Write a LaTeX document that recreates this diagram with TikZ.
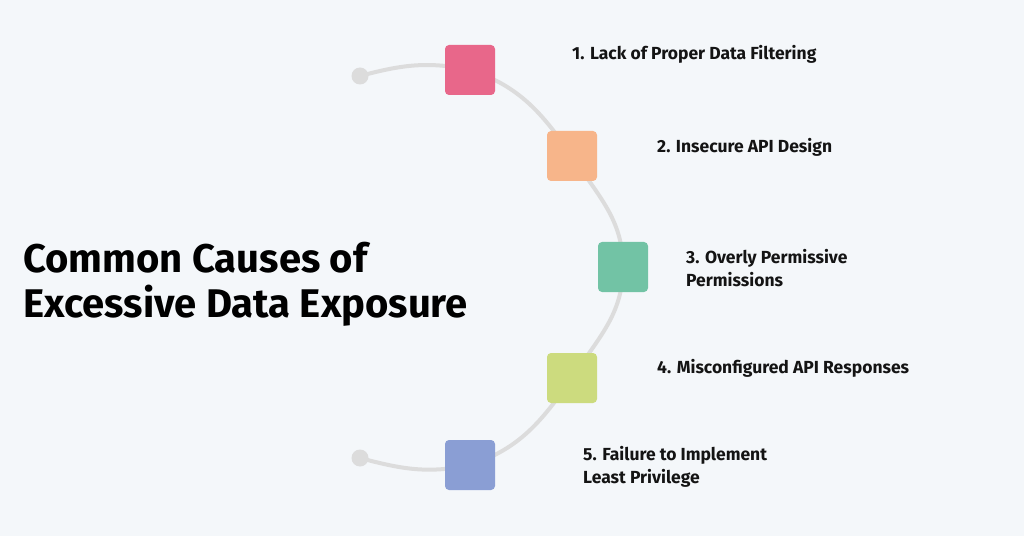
\documentclass[tikz,border=0pt]{standalone}
\usepackage{fontspec}
\setmainfont{Fira Sans}
\newfontfamily\titlefont{Fira Sans Bold}
\newfontfamily\labelfont{Fira Sans SemiBold}
\definecolor{bg}{HTML}{F4F7FA}
\definecolor{ink}{HTML}{141414}
\definecolor{trackgray}{HTML}{DCDCDC}
\definecolor{pinkbox}{HTML}{E8678A}
\definecolor{peachbox}{HTML}{F7B58A}
\definecolor{greenbox}{HTML}{72C3A5}
\definecolor{limebox}{HTML}{CCDB7E}
\definecolor{bluebox}{HTML}{8A9ED4}
\begin{document}
\begin{tikzpicture}[x=1pt, y=1pt,
  box/.style = {rounded corners=4pt, minimum size=50pt, inner sep=0pt},
  enddot/.style = {circle, fill=trackgray, minimum size=17pt, inner sep=0pt},
  track/.style = {draw=trackgray, line width=4pt},
  cause/.style = {anchor=west, align=left, inner sep=0pt, text=ink,
    font=\titlefont\fontsize{17.5}{23}\selectfont}]
\fill[bg] (0,0) rectangle (1024,536);
% points on the arc
\coordinate (p1) at (470,466);
\coordinate (p2) at (572,380);
\coordinate (p3) at (623,269);
\coordinate (p4) at (572,158);
\coordinate (p5) at (470,71);
\node[enddot] (d1) at (360,460) {};
\node[enddot] (d2) at (360,78) {};
\draw[track] (d1.center) to[out=15,in=168] (p1) to[out=-18,in=125] (p2)
  to[out=-57,in=90] (p3) to[out=-90,in=57] (p4) to[out=-125,in=18] (p5)
  to[out=-168,in=-15] (d2.center);
% the five squares
\node[box, fill=pinkbox] (s1) at (p1) {};
\node[box, fill=peachbox] (s2) at (p2) {};
\node[box, fill=greenbox] (s3) at (p3) {};
\node[box, fill=limebox] (s4) at (p4) {};
\node[box, fill=bluebox] (s5) at (p5) {};
\node[cause] (c1) at (572,482) {1. Lack of Proper Data Filtering};
\node[cause] (c2) at (657,389) {2. Insecure API Design};
\node[cause] (c3) at (686,267.5) {3. Overly Permissive\\Permissions};
\node[cause] (c4) at (657,168) {4. Misconfigured API Responses};
\node[cause] (c5) at (583,69.5) {5. Failure to Implement\\Least Privilege};
\node[anchor=west, align=left, inner sep=0pt, text=black,
  font=\titlefont\fontsize{40}{45}\selectfont] (title) at (23,252)
  {Common Causes of\\Excessive Data Exposure};
\end{tikzpicture}
\end{document}
